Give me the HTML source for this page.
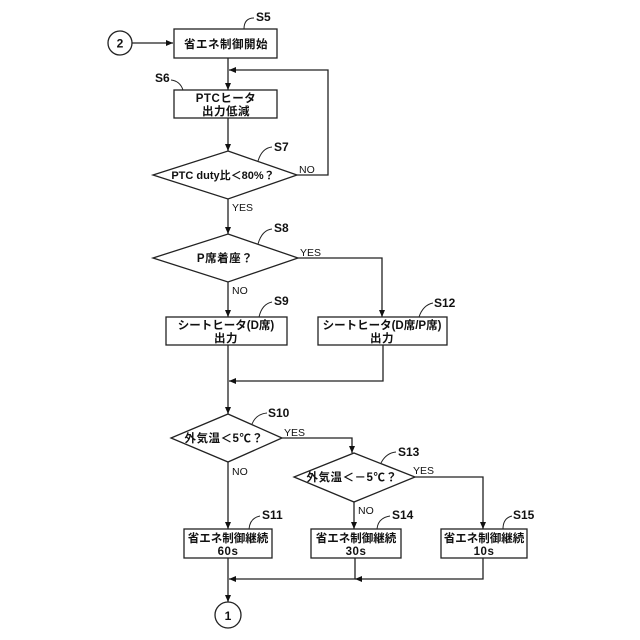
<!DOCTYPE html>
<html><head><meta charset="utf-8"><style>
html,body{margin:0;padding:0;background:#fff;}
svg{display:block;}
text{font-family:"Liberation Sans","Noto Sans CJK JP",sans-serif;fill:#111;}
.t{font-size:11.5px;text-anchor:middle;font-weight:bold;letter-spacing:0.5px;}
.s{font-size:12px;font-weight:bold;}
.l{font-size:10.5px;}
</style></head><body>
<svg width="640" height="640" viewBox="0 0 640 640" xmlns="http://www.w3.org/2000/svg">
<defs><marker id="a" markerWidth="8" markerHeight="8" refX="7" refY="4" orient="auto" markerUnits="userSpaceOnUse"><path d="M0,1 L7,4 L0,7 z" fill="#111"/></marker></defs>
<g stroke="#222" stroke-width="1.3" fill="none">
<circle cx="120" cy="43" r="12"/>
<line x1="132" y1="43" x2="173" y2="43" marker-end="url(#a)"/>
<rect x="174" y="29" width="103" height="29"/>
<line x1="228" y1="58" x2="228" y2="90" marker-end="url(#a)"/>
<rect x="174" y="90" width="103" height="28"/>
<line x1="228" y1="118" x2="228" y2="151" marker-end="url(#a)"/>
<polygon points="228,151 297,175 228,199 153,175"/>
<polyline points="297,175 328,175 328,70 229,70" marker-end="url(#a)"/>
<line x1="228" y1="199" x2="228" y2="234" marker-end="url(#a)"/>
<polygon points="228,234 298,258 228,282 153,258"/>
<polyline points="298,258 382,258 382,317" marker-end="url(#a)"/>
<line x1="228" y1="282" x2="228" y2="317" marker-end="url(#a)"/>
<rect x="166" y="317" width="121" height="28"/>
<rect x="318" y="317" width="129" height="28"/>
<line x1="228" y1="345" x2="228" y2="414" marker-end="url(#a)"/>
<polyline points="383,345 383,381 229,381" marker-end="url(#a)"/>
<polygon points="228,414 282,438 228,462 171,438"/>
<polyline points="282,438 352,438 352,453" marker-end="url(#a)"/>
<line x1="228" y1="462" x2="228" y2="529" marker-end="url(#a)"/>
<polygon points="354,453 415,477 354,502 294,477"/>
<polyline points="415,477 483,477 483,529" marker-end="url(#a)"/>
<line x1="354" y1="502" x2="354" y2="529" marker-end="url(#a)"/>
<rect x="184" y="529" width="88" height="29"/>
<rect x="311" y="529" width="90" height="29"/>
<rect x="441" y="529" width="86" height="29"/>
<line x1="228" y1="558" x2="228" y2="602" marker-end="url(#a)"/>
<polyline points="483,558 483,579 355,579" marker-end="url(#a)"/>
<polyline points="355,558 355,579 229,579" marker-end="url(#a)"/>
<circle cx="228" cy="615" r="13"/>
<path d="M244,29 Q244,18 254,18" stroke-width="1"/>
<path d="M171,80 Q180,81 183,90" stroke-width="1"/>
<path d="M258,161 Q262,148 272,147" stroke-width="1"/>
<path d="M258,244 Q262,230 272,229" stroke-width="1"/>
<path d="M259,317 Q262,304 272,302" stroke-width="1"/>
<path d="M419,317 Q423,305 433,303" stroke-width="1"/>
<path d="M252,424 Q256,414 267,413" stroke-width="1"/>
<path d="M381,463 Q386,453 396,452" stroke-width="1"/>
<path d="M249,529 Q250,518 260,516" stroke-width="1"/>
<path d="M377,529 Q378,518 390,516" stroke-width="1"/>
<path d="M503,529 Q503,518 512,516" stroke-width="1"/>
</g>
<text class="s" x="120" y="47.5" text-anchor="middle">2</text>
<text class="s" x="228" y="620" text-anchor="middle">1</text>
<text class="s" x="256" y="21">S5</text>
<text class="s" x="155" y="82">S6</text>
<text class="s" x="274" y="151">S7</text>
<text class="s" x="274" y="232">S8</text>
<text class="s" x="274" y="305">S9</text>
<text class="s" x="434" y="307">S12</text>
<text class="s" x="268" y="417">S10</text>
<text class="s" x="398" y="456">S13</text>
<text class="s" x="262" y="519">S11</text>
<text class="s" x="392" y="519">S14</text>
<text class="s" x="513" y="519">S15</text>
<text class="t" x="226" y="48">省エネ制御開始</text>
<text class="t" x="226" y="102">PTCヒータ</text>
<text class="t" x="226" y="115">出力低減</text>
<text class="t" x="223" y="179" style="font-size:11px;letter-spacing:0">PTC duty比＜80%？</text>
<text class="t" x="225" y="262">P席着座？</text>
<text class="t" x="226" y="329" style="letter-spacing:0">シートヒータ(D席)</text>
<text class="t" x="226" y="342">出力</text>
<text class="t" x="382" y="329" style="letter-spacing:0">シートヒータ(D席/P席)</text>
<text class="t" x="382" y="342">出力</text>
<text class="t" x="224" y="442">外気温＜5℃？</text>
<text class="t" x="352" y="481">外気温＜－5℃？</text>
<text class="t" x="228" y="542" style="letter-spacing:0">省エネ制御継続</text>
<text class="t" x="228" y="555">60s</text>
<text class="t" x="356" y="542" style="letter-spacing:0">省エネ制御継続</text>
<text class="t" x="356" y="555">30s</text>
<text class="t" x="484" y="542" style="letter-spacing:0">省エネ制御継続</text>
<text class="t" x="484" y="555">10s</text>
<text class="l" x="299" y="173">NO</text>
<text class="l" x="232" y="211">YES</text>
<text class="l" x="300" y="256">YES</text>
<text class="l" x="232" y="294">NO</text>
<text class="l" x="284" y="436">YES</text>
<text class="l" x="232" y="475">NO</text>
<text class="l" x="413" y="474">YES</text>
<text class="l" x="358" y="514">NO</text>
</svg>
</body></html>
